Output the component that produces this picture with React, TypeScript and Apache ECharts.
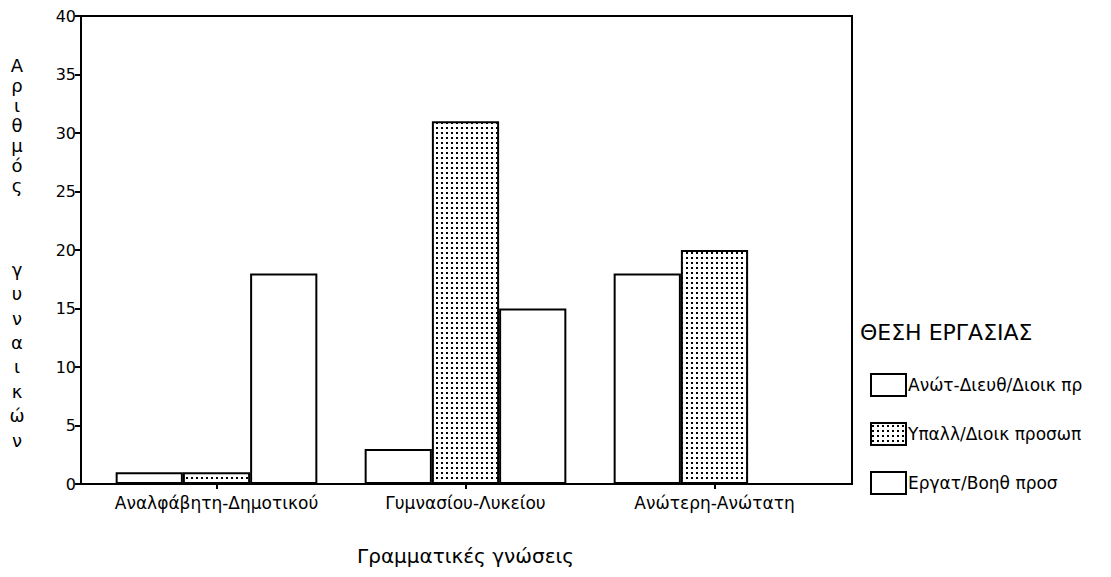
import React, { useEffect, useRef } from "react";
import * as echarts from "echarts";

const categories = ["Αναλφάβητη-Δημοτικού", "Γυμνασίου-Λυκείου", "Ανώτερη-Ανώτατη"];
const seriesNames = ["Ανώτ-Διευθ/Διοικ πρ", "Υπαλλ/Διοικ προσωπ", "Εργατ/Βοηθ προσ"];
const managers = [1, 3, 18];
const employees = [1, 31, 20];
const workers = [18, 15, 0];
const yTitleTop = "Α\nρ\nι\nθ\nμ\nό\nς";
const yTitleBottom = "γ\nυ\nν\nα\nι\nκ\nώ\nν";
const xTitle = "Γραμματικές γνώσεις";
const legendTitle = "ΘΕΣΗ ΕΡΓΑΣΙΑΣ";

const FONT = "DejaVu Sans";

function makeDotPattern() {
  const c = document.createElement("canvas");
  c.width = 5;
  c.height = 5;
  const ctx = c.getContext("2d")!;
  ctx.fillStyle = "#ffffff";
  ctx.fillRect(0, 0, 5, 5);
  ctx.fillStyle = "#000000";
  ctx.fillRect(1, 2, 2, 2);
  return { image: c, repeat: "repeat" } as any;
}

export default function App() {
  const ref = useRef<HTMLDivElement>(null);
  useEffect(() => {
    if (!ref.current) return;
    const chart = echarts.init(ref.current, null, { renderer: "svg" });
    const pattern = makeDotPattern();
    const barStyle = (fill: any) => ({
      color: fill,
      borderColor: "#000",
      borderWidth: 2,
    });
    chart.setOption({
      animation: false,
      backgroundColor: "#ffffff",
      textStyle: { fontFamily: FONT, color: "#000" },
      grid: { left: 92, right: 272, top: 16, bottom: 93, containLabel: false },
      legend: {
        orient: "vertical",
        left: 865,
        top: 368,
        itemWidth: 35,
        itemHeight: 22,
        itemGap: 25,
        icon: "rect",
        textStyle: { fontFamily: FONT, fontSize: 17, color: "#000", padding: [0, 0, 0, -3] },
        data: seriesNames,
      },
      xAxis: {
        type: "category",
        data: categories,
        axisLine: { show: false },
        axisTick: { show: true, alignWithLabel: true, length: 5, lineStyle: { color: "#000", width: 2 } },
        axisLabel: { fontFamily: FONT, fontSize: 17, color: "#000", margin: 10, interval: 0 },
        name: xTitle,
        nameLocation: "middle",
        nameGap: 62,
        nameTextStyle: { fontFamily: FONT, fontSize: 20, color: "#000" },
      },
      yAxis: {
        type: "value",
        min: 0,
        max: 40,
        interval: 5,
        offset: 11,
        splitLine: { show: false },
        axisLine: { show: true, lineStyle: { color: "#000", width: 2 } },
        axisTick: { show: true, length: 6, lineStyle: { color: "#000", width: 2 } },
        axisLabel: { fontFamily: FONT, fontSize: 16, color: "#000", margin: 5 },
      },
      graphic: [
        {
          type: "rect",
          shape: { x: 81, y: 16, width: 771, height: 468 },
          style: { fill: "none", stroke: "#000", lineWidth: 2 },
          silent: true,
        },
        {
          type: "text",
          x: 17,
          y: 55,
          style: {
            text: yTitleTop,
            fontFamily: FONT,
            fontSize: 18,
            lineHeight: 20,
            fill: "#000",
            textAlign: "center",
            textVerticalAlign: "top",
          },
        },
        {
          type: "text",
          x: 17,
          y: 257,
          style: {
            text: yTitleBottom,
            fontFamily: FONT,
            fontSize: 18,
            lineHeight: 24.4,
            fill: "#000",
            textAlign: "center",
            textVerticalAlign: "top",
          },
        },
        {
          type: "text",
          x: 860,
          y: 332,
          style: {
            text: legendTitle,
            fontFamily: FONT,
            fontSize: 22,
            fill: "#000",
            textAlign: "left",
            textVerticalAlign: "middle",
          },
        },
      ],
      series: [
        {
          name: seriesNames[0],
          type: "bar",
          data: managers,
          barGap: "0%",
          barCategoryGap: "19%",
          itemStyle: barStyle("#ffffff"),
        },
        {
          name: seriesNames[1],
          type: "bar",
          data: employees,
          barGap: "0%",
          barCategoryGap: "19%",
          itemStyle: barStyle(pattern),
        },
        {
          name: seriesNames[2],
          type: "bar",
          data: workers,
          barGap: "0%",
          barCategoryGap: "19%",
          itemStyle: barStyle("#ffffff"),
        },
      ],
    });
    return () => chart.dispose();
  }, []);
  return (
    <div
      ref={ref}
      style={{ position: "fixed", left: 0, top: 0, width: 1111, height: 577, background: "#fff" }}
    />
  );
}
